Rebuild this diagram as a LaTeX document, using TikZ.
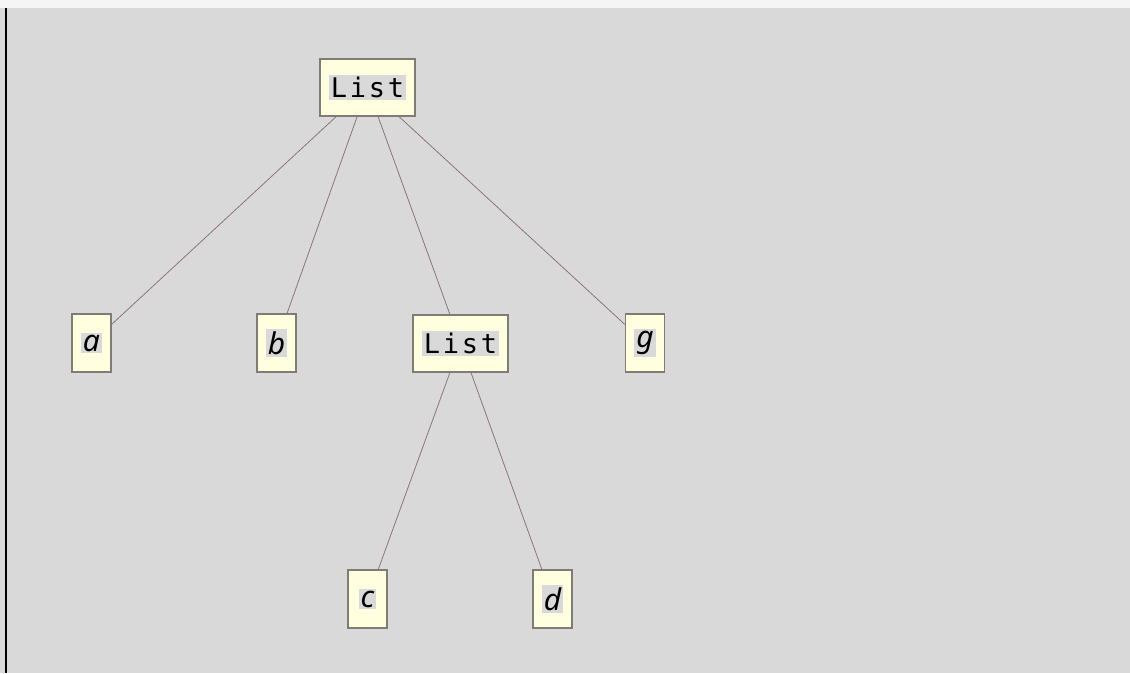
\documentclass[tikz,border=0pt]{standalone}
\usepackage{fontspec}
\setmainfont{Noto Sans}
\newfontfamily\monofnt[LetterSpace=10]{DejaVu Sans Mono}
\definecolor{bgtop}{RGB}{245,245,245}
\definecolor{bgmain}{RGB}{217,217,217}
\definecolor{nodefill}{RGB}{255,255,224}
\definecolor{nodeline}{RGB}{125,125,115}
\definecolor{edgecol}{RGB}{140,118,118}
\definecolor{hl}{RGB}{217,217,217}
\newcommand{\hlbox}[1]{{\setlength{\fboxsep}{2pt}\colorbox{hl}{#1}}}
\tikzset{
  box/.style={draw=nodeline, line width=1.5pt, fill=nodefill, inner sep=0pt, anchor=center},
  listbox/.style={box, minimum width=95pt, minimum height=57pt, font=\monofnt\fontsize{27}{30}\selectfont},
  leafbox/.style={box, minimum width=39pt, minimum height=58pt, font=\itshape\fontsize{30}{32}\selectfont},
  edge/.style={draw=edgecol, line width=0.8pt}
}
\begin{document}
\begin{tikzpicture}[x=1pt,y=-1pt]
\fill[bgtop] (0,0) rectangle (1130,8);
\fill[bgmain] (0,8) rectangle (1130,673);
\useasboundingbox (0,0) rectangle (1130,673);
\draw[black, line width=2pt] (6,8) -- (6,673);
\node[listbox] (L1) at (367.5,87.5) {\hlbox{List}};
\node[leafbox] (a) at (91.5,343) {\hlbox{a}};
\node[leafbox] (b) at (276.5,343) {\hlbox{b}};
\node[listbox] (L2) at (460.5,343.5) {\hlbox{List}};
\node[leafbox] (g) at (645,343) {\hlbox{g}};
\node[leafbox] (c) at (367.5,599) {\hlbox{c}};
\node[leafbox] (d) at (552.5,599) {\hlbox{d}};
\draw[edge] (L1) -- (a);
\draw[edge] (L1) -- (b);
\draw[edge] (L1) -- (L2);
\draw[edge] (L1) -- (g);
\draw[edge] (L2) -- (c);
\draw[edge] (L2) -- (d);
\end{tikzpicture}
\end{document}
